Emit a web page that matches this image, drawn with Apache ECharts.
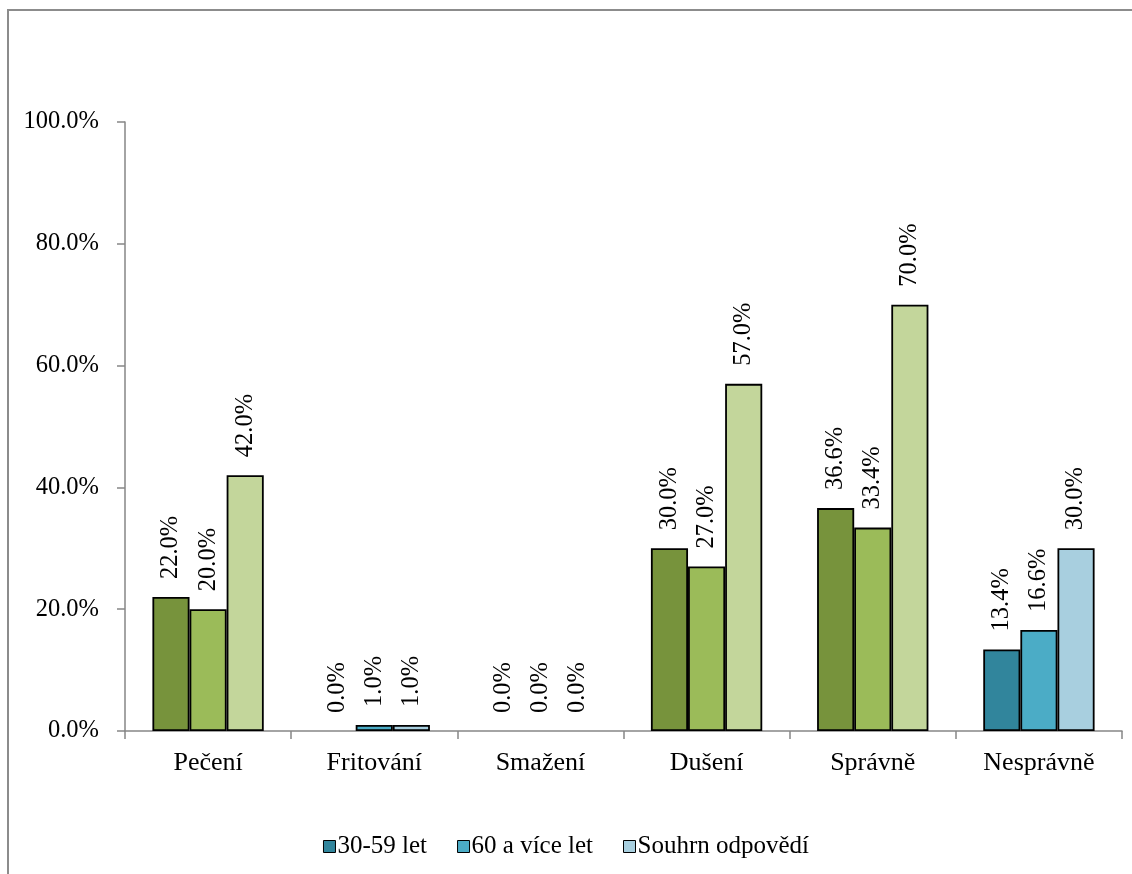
<!DOCTYPE html>
<html>
<head>
<meta charset="utf-8">
<script src="https://cdn.jsdelivr.net/npm/echarts@6/dist/echarts.min.js"></script>
<style>
  html, body { margin: 0; padding: 0; background: #ffffff; }
  #chart { width: 1132px; height: 874px; }
</style>
</head>
<body>
<div id="chart"></div>
<script>
// Categories along the x axis
var categories = ['Pečení', 'Fritování', 'Smažení', 'Dušení', 'Správně', 'Nesprávně'];

// Series names and values (percent)
var seriesNames = ['30-59 let', '60 a více let', 'Souhrn odpovědí'];
var ageYoung = [22.0, 0.0, 0.0, 30.0, 36.6, 13.4];
var ageOld = [20.0, 1.0, 0.0, 27.0, 33.4, 16.6];
var totals = [42.0, 1.0, 0.0, 57.0, 70.0, 30.0];

// Y axis ticks
var yTicks = [0, 20, 40, 60, 80, 100];

// Palettes: blue for the series (legend), green for the cooking-method groups
var bluePalette = ['#31859C', '#4BACC6', '#A8CFDF'];
var greenPalette = ['#77933C', '#9BBB59', '#C3D69B'];
var greenCategories = ['Pečení', 'Dušení', 'Správně'];

var font = "'Liberation Serif', 'Times New Roman', serif";

function buildData(values, s) {
  return values.map(function (v, i) {
    var item = { value: v, itemStyle: {} };
    if (greenCategories.indexOf(categories[i]) >= 0) {
      item.itemStyle.color = greenPalette[s];
    }
    if (v === 0) {
      item.itemStyle.borderWidth = 0;
    }
    return item;
  });
}

var allValues = [ageYoung, ageOld, totals];
var series = allValues.map(function (vals, s) {
  return {
    name: seriesNames[s],
    type: 'bar',
    barGap: '0%',
    barCategoryGap: '33%',
    itemStyle: { color: bluePalette[s], borderColor: '#000000', borderWidth: 1.8 },
    label: {
      show: true,
      position: 'top',
      rotate: 90,
      align: 'left',
      verticalAlign: 'middle',
      distance: 18,
      color: '#000000',
      fontFamily: font,
      fontSize: 24.5,
      formatter: function (p) { return p.value.toFixed(1) + '%'; }
    },
    data: buildData(vals, s)
  };
});

var chart = echarts.init(document.getElementById('chart'), null, { renderer: 'canvas' });
chart.setOption({
  animation: false,
  backgroundColor: '#ffffff',
  textStyle: { fontFamily: font },
  graphic: [{
    type: 'rect',
    shape: { x: 8, y: 10, width: 1200, height: 1000 },
    style: { fill: 'none', stroke: '#8C8C8C', lineWidth: 2 },
    silent: true,
    z: -1
  }],
  grid: { left: 125, right: 10, top: 122, bottom: 143, containLabel: false },
  legend: {
    data: seriesNames,
    left: 'center',
    top: 829,
    icon: 'rect',
    itemWidth: 12,
    itemHeight: 12,
    itemGap: 30,
    itemStyle: { borderColor: '#000000', borderWidth: 1 },
    textStyle: { fontFamily: font, fontSize: 25, color: '#000000', padding: [0, 0, 0, -3] }
  },
  xAxis: {
    type: 'category',
    data: categories,
    axisLine: { lineStyle: { color: '#868686', width: 1.5 } },
    axisTick: { show: true, length: 8, lineStyle: { color: '#868686', width: 1.5 } },
    axisLabel: { fontFamily: font, fontSize: 26, color: '#000000', margin: 19 }
  },
  yAxis: {
    type: 'value',
    min: yTicks[0],
    max: yTicks[yTicks.length - 1],
    interval: yTicks[1] - yTicks[0],
    splitLine: { show: false },
    axisLine: { show: true, lineStyle: { color: '#868686', width: 1.5 } },
    axisTick: { show: true, length: 8, lineStyle: { color: '#868686', width: 1.5 } },
    axisLabel: {
      fontFamily: font, fontSize: 24.5, color: '#000000', margin: 26,
      formatter: function (v) { return v.toFixed(1) + '%'; }
    }
  },
  series: series
});
</script>
</body>
</html>
